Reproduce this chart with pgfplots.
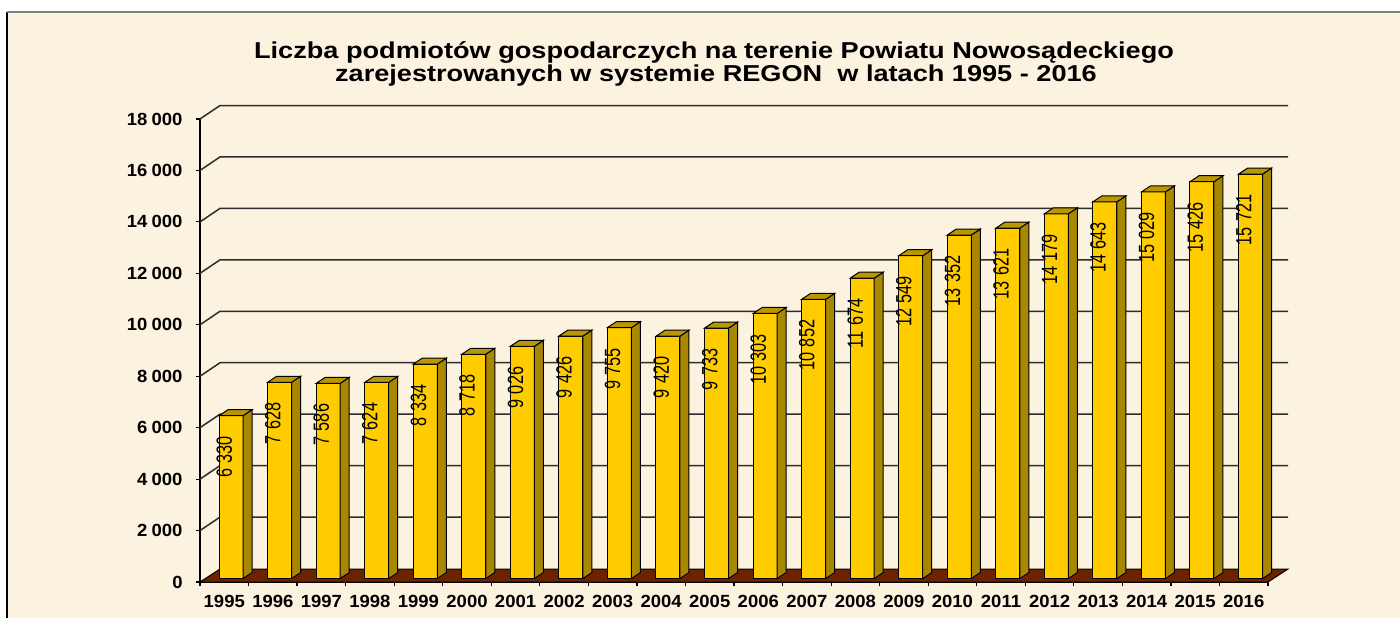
\documentclass[border=0pt]{standalone}
\usepackage{fontspec}
\setmainfont{Liberation Sans}
\newfontfamily\titlefont{Liberation Sans}[FakeStretch=1.18]
\newfontfamily\tickfont{Liberation Sans}[FakeStretch=1.05]
\newfontfamily\valfont{Liberation Sans}[FakeStretch=0.74]
\usepackage{pgfplots}
\usepackage{pgfplotstable}
\pgfplotsset{compat=1.18}
\definecolor{bg}{RGB}{251,242,224}
\definecolor{barfront}{RGB}{255,204,0}
\definecolor{barside}{RGB}{168,136,0}
\definecolor{bartop}{RGB}{186,150,0}
\definecolor{floorc}{RGB}{108,36,0}
\definecolor{gridc}{RGB}{45,45,45}

\pgfplotstableread{
x y
0 6330
1 7628
2 7586
3 7624
4 8334
5 8718
6 9026
7 9426
8 9755
9 9420
10 9733
11 10303
12 10852
13 11674
14 12549
15 13352
16 13621
17 14179
18 14643
19 15029
20 15426
21 15721
}\regon

\begin{document}
\begin{tikzpicture}
\useasboundingbox (0pt,0pt) rectangle (700pt,309pt);
\fill[white] (0pt,0pt) rectangle (700pt,309pt);
\fill[bg] (3.5pt,0pt) rectangle (700pt,303pt);
\draw[black, line width=0.8pt] (3.5pt,0pt) -- (3.5pt,303pt);
\draw[gray, line width=0.6pt] (3.5pt,303pt) -- (700pt,303pt);

\node[anchor=base, font=\titlefont\bfseries\fontsize{11.5}{13}\selectfont] at (357pt,280pt)
  {Liczba podmiotów gospodarczych na terenie Powiatu Nowosądeckiego};
\node[anchor=base, font=\titlefont\bfseries\fontsize{11.5}{13}\selectfont] at (358pt,268.5pt)
  {zarejestrowanych w systemie REGON\ \ w latach 1995 - 2016};

\begin{axis}[
  at={(100pt,18pt)}, anchor=south west,
  scale only axis, width=534pt, height=231.5pt,
  xmin=-0.5, xmax=21.5, ymin=0, ymax=18000,
  clip=false,
  axis x line*=bottom, axis y line*=left,
  axis line style={black, line width=0.7pt},
  tick align=outside,
  major tick length=2.2pt, minor tick length=2.2pt,
  xtick={0,...,21},
  xticklabels={1995,1996,1997,1998,1999,2000,2001,2002,2003,2004,2005,2006,2007,2008,2009,2010,2011,2012,2013,2014,2015,2016},
  major x tick style={draw=none},
  minor xtick={-0.5,0.5,...,21.5},
  minor x tick style={black, line width=0.6pt},
  ytick={0,2000,4000,6000,8000,10000,12000,14000,16000,18000},
  scaled y ticks=false,
  major y tick style={black, line width=0.6pt},
  /pgf/number format/.cd, fixed, precision=0, 1000 sep={\hspace{0.24em}}, assume math mode=true,
  /pgfplots/.cd,
  ticklabel style={font=\tickfont\bfseries\fontsize{8.8}{10}\selectfont},
  yticklabel style={xshift=-3pt},
  xticklabel style={yshift=-1pt},
]
% back wall grid lines
\pgfplotsinvokeforeach{2000,4000,6000,8000,10000,12000,14000,16000,18000}{
  \draw[gridc, line width=0.75pt] (axis cs:-0.5,#1) -- ([shift={(10pt,6.75pt)}]axis cs:-0.5,#1)
     -- ([shift={(10pt,6.75pt)}]axis cs:21.5,#1);
}
% floor
\filldraw[fill=floorc, draw=black, line width=0.5pt] (axis cs:-0.5,0) -- (axis cs:21.5,0)
  -- ([shift={(10pt,6.5pt)}]axis cs:21.5,0) -- ([shift={(10pt,6.5pt)}]axis cs:-0.5,0) -- cycle;

% side and top faces
\addplot[scatter, only marks, mark=*, mark size=0pt,
  mark options={draw=none, fill=none},
  visualization depends on={rawy \as \valy},
  scatter/@pre marker code/.code={%
    \pgfmathsetmacro\Hb{4.75-\valy*0.0128611}%
    \pgfmathsetmacro\Hc{1.75-\valy*0.0128611}%
    \filldraw[fill=barside, draw=black, fill opacity=1, draw opacity=1, line width=0.5pt] (9.4pt,1.75pt) -- (13.9pt,4.75pt) -- (13.9pt,\Hb pt) -- (9.4pt,\Hc pt) -- cycle;
    \filldraw[fill=bartop, draw=black, fill opacity=1, draw opacity=1, line width=0.5pt] (-2.6pt,1.75pt) -- (1.9pt,4.75pt) -- (13.9pt,4.75pt) -- (9.4pt,1.75pt) -- cycle;
  },
  scatter/@post marker code/.code={},
] table[x=x, y=y] {\regon};

% front faces with value labels
\addplot[ybar, bar width=12pt, bar shift=3.4pt, yshift=1.75pt,
  fill=barfront, draw=black, line width=0.5pt,
  nodes near coords,
  nodes near coords style={anchor=east, rotate=90, inner sep=0pt, xshift=-10pt,
     font=\valfont\fontsize{11}{13}\selectfont, text=black},
] table[x=x, y=y] {\regon};
\end{axis}
\end{tikzpicture}
\end{document}
